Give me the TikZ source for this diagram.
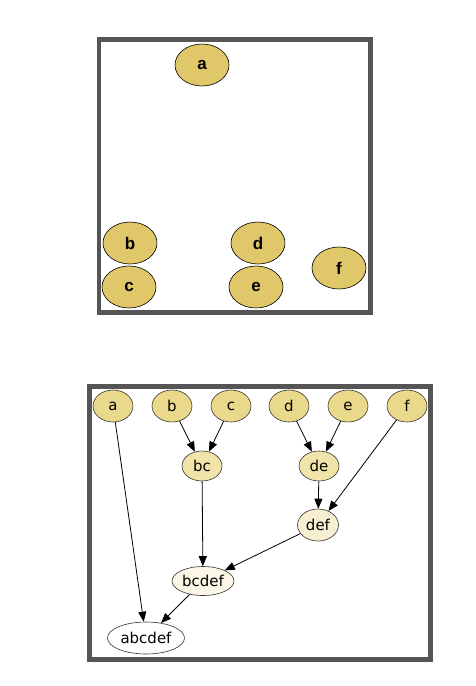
\documentclass[tikz,border=0pt]{standalone}
\usepackage{fontspec}
\setmainfont{DejaVu Sans}
\newfontfamily\boldsans{Liberation Sans}
\usetikzlibrary{arrows.meta,shapes.geometric}
\definecolor{topfill}{HTML}{E0C76A}
\definecolor{rowfill}{HTML}{EBD98B}
\definecolor{midfill}{HTML}{F1E4A9}
\definecolor{deffill}{HTML}{F8EFD2}
\definecolor{bcdeffill}{HTML}{FBF6E5}
\definecolor{framegray}{HTML}{555555}
\tikzset{
  frame/.style={draw=framegray,line width=4.8pt},
  topnode/.style={ellipse,draw=black,line width=0.6pt,fill=topfill,minimum width=54pt,minimum height=42pt,inner sep=0pt,font=\boldsans\bfseries\fontsize{17}{17}\selectfont},
  gnode/.style={ellipse,draw=black!80,line width=0.6pt,minimum width=40pt,minimum height=32pt,inner sep=0pt,font=\fontsize{15}{15}\selectfont},
  edge/.style={line width=0.8pt,-{Triangle[length=10pt,width=8pt]}}
}
\begin{document}
\begin{tikzpicture}[x=1pt,y=-1pt]
\useasboundingbox (0,0) rectangle (476,686);
% top frame
\draw[frame] (99,39.5) rectangle (370.5,312.5);
\node[topnode] (ta) at (202,65) {a};
\node[topnode] (tb) at (130,243) {b};
\node[topnode] (tc) at (129,287) {c};
\node[topnode] (td) at (258,243) {d};
\node[topnode] (te) at (256,287) {e};
\node[topnode] (tf) at (339,268) {f};
% bottom frame
\draw[frame] (89.5,386.5) rectangle (430.5,659.5);
\node[gnode,fill=rowfill] (a) at (113,406) {a};
\node[gnode,fill=rowfill] (b) at (172,406) {b};
\node[gnode,fill=rowfill] (c) at (231,406) {c};
\node[gnode,fill=rowfill] (d) at (289,406) {d};
\node[gnode,fill=rowfill] (e) at (348,406) {e};
\node[gnode,fill=rowfill] (f) at (407,406) {f};
\node[gnode,fill=midfill,minimum height=30pt] (bc) at (202,466) {bc};
\node[gnode,fill=midfill,minimum height=30pt] (de) at (319,466) {de};
\node[gnode,fill=deffill,minimum width=41pt] (def) at (318,525) {def};
\node[gnode,fill=bcdeffill,minimum width=62pt,minimum height=29pt] (bcdef) at (203,581) {bcdef};
\node[gnode,fill=white,minimum width=77pt] (abcdef) at (146,638) {abcdef};
\draw[edge] (b) -- (bc);
\draw[edge] (c) -- (bc);
\draw[edge] (d) -- (de);
\draw[edge] (e) -- (de);
\draw[edge] (de) -- (def);
\draw[edge] (f) -- (def);
\draw[edge] (bc) -- (bcdef);
\draw[edge] (def) -- (bcdef);
\draw[edge] (bcdef) -- (abcdef);
\draw[edge] (a) -- (abcdef);
\end{tikzpicture}
\end{document}
